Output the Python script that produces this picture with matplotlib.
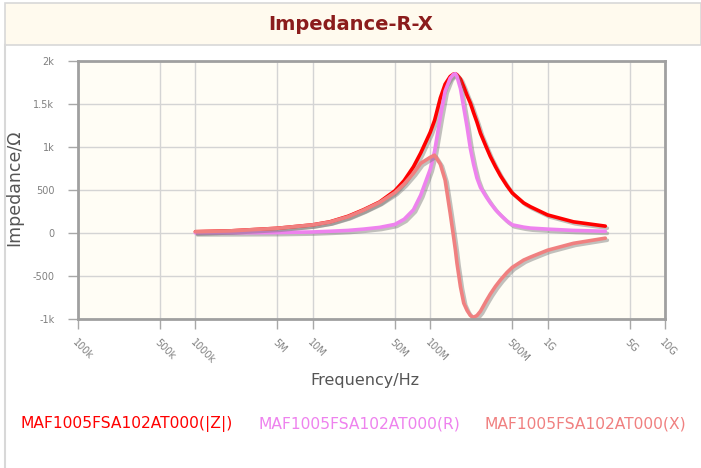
import matplotlib
matplotlib.use("Agg")
import matplotlib.pyplot as plt
import matplotlib.patheffects as pe
from matplotlib.patches import Rectangle
from matplotlib.lines import Line2D

# (frequency in MHz, impedance in ohm)
freq_mhz = [1, 2, 5, 10, 14, 20, 27, 37, 50, 60, 72, 83, 100, 109, 122, 134, 148, 158,
            164, 169, 181, 193, 206, 220, 234, 250, 268, 300, 325, 360, 397, 450, 500, 625,
            715, 1000, 1660, 3100]
z_abs = [15, 25, 55, 95, 130, 195, 270, 360, 490, 610, 770, 930, 1170, 1310, 1570, 1730,
         1820, 1848, 1852, 1840, 1790, 1700, 1600, 1510, 1400, 1290, 1160, 1000, 890, 770,
         665, 550, 465, 350, 305, 210, 130, 80]
r_val = [2, 3, 5, 12, 20, 30, 45, 65, 100, 160, 270, 440, 740, 950, 1350, 1650, 1800, 1845,
         1852, 1820, 1680, 1460, 1235, 980, 800, 640, 530, 420, 350, 270, 210, 140, 95, 68,
         57, 45, 30, 20]
x_val = [15, 25, 55, 95, 128, 190, 265, 355, 470, 570, 695, 810, 880, 905, 800, 615, 230,
         -40, -200, -350, -625, -815, -900, -960, -980, -960, -910, -790, -710, -620, -545,
         -460, -400, -315, -280, -200, -120, -60]

x_ticks = [1e5, 5e5, 1e6, 5e6, 1e7, 5e7, 1e8, 5e8, 1e9, 5e9, 1e10]
x_tick_labels = ["100k", "500k", "1000k", "5M", "10M", "50M", "100M", "500M", "1G", "5G", "10G"]
y_ticks = [-1000, -500, 0, 500, 1000, 1500, 2000]
y_tick_labels = ["-1k", "-500", "0", "500", "1k", "1.5k", "2k"]

series_names = ["MAF1005FSA102AT000(|Z|)", "MAF1005FSA102AT000(R)", "MAF1005FSA102AT000(X)"]
series_colors = ["#ff0000", "#ee82ee", "#f08080"]

W, H = 701, 468
fig = plt.figure(figsize=(W / 100, H / 100), dpi=100)
fig.patch.set_facecolor("white")

# header bar
fig.patches.append(Rectangle((5 / W, 1 - 45 / H), 1 - 5 / W, 42 / H, transform=fig.transFigure,
                             facecolor="#fffaee", edgecolor="#d8d8d8", lw=1.2))
fig.lines.append(Line2D([5 / W, 5 / W], [0, 1 - 45 / H], transform=fig.transFigure,
                        color="#d8d8d8", lw=1.5))
fig.text(0.5, 1 - 25 / H, "Impedance-R-X", ha="center", va="center",
         fontsize=14, fontweight="bold", color="#8b1c1c")

ax = fig.add_axes([78 / W, 1 - 319 / H, (665 - 78) / W, (319 - 61) / H])
ax.set_facecolor("#fffdf5")

freq_hz = [f * 1e6 for f in freq_mhz]
shadow = [pe.SimpleLineShadow(offset=(1.5, -1.5), shadow_color="#777777", alpha=0.45), pe.Normal()]
for vals, color in zip([z_abs, r_val, x_val], series_colors):
    ax.plot(freq_hz, vals, color=color, lw=2.6, solid_capstyle="round",
            solid_joinstyle="round", path_effects=shadow)

ax.set_xscale("log")
ax.set_xlim(1e5, 1e10)
ax.set_ylim(-1000, 2000)
ax.set_xticks(x_ticks)
ax.set_xticklabels(x_tick_labels, rotation=-45, ha="left", va="top", rotation_mode="anchor")
ax.xaxis.set_minor_locator(matplotlib.ticker.NullLocator())
ax.set_yticks(y_ticks)
ax.set_yticklabels(y_tick_labels)
ax.tick_params(axis="both", colors="#a8a8a8", labelcolor="#808080", labelsize=7, length=7, width=1)
ax.tick_params(axis="y", pad=10)
ax.tick_params(axis="x", pad=6)
ax.grid(True, color="#d4d4d4", lw=1)
ax.set_axisbelow(True)
for sp in ax.spines.values():
    sp.set_color("#a0a0a0")
    sp.set_linewidth(2)

fig.text(14 / W, 1 - 188 / H, "Impedance/Ω", rotation=90, ha="center", va="center",
         fontsize=12.5, color="#555555")
fig.text(365 / W, 1 - 380 / H, "Frequency/Hz", ha="center", va="center",
         fontsize=11.5, color="#555555")

legend_x = [20, 258, 485]
for name, color, lx in zip(series_names, series_colors, legend_x):
    fig.text(lx / W, 1 - 424 / H, name, ha="left", va="center", fontsize=11.2, color=color)

fig.savefig("out.png", dpi=100)
